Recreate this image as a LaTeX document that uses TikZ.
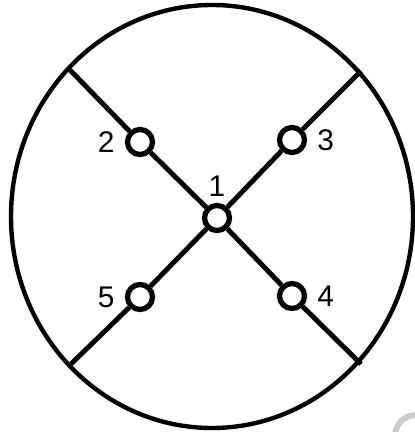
\documentclass[tikz,border=0pt]{standalone}
\usepackage{fontspec}
\setmainfont{Liberation Sans}
\usetikzlibrary{positioning}

\begin{document}
\begin{tikzpicture}[
  x=0.02cm, y=-0.02cm,
  port/.style={draw, circle, fill=white, line width=3pt, minimum size=0.5cm, inner sep=0pt},
  wire/.style={line width=2.8pt},
  rim/.style={line width=2.5pt},
  num/.style={font=\fontsize{17}{20}\selectfont, inner sep=0pt},
  every label/.style={num},
  label distance=0.2cm
]
\useasboundingbox (0,0) rectangle (414,432);
\draw[rim] (212,216.5) ellipse [x radius=201, y radius=211.5];
\draw[gray!40, line width=3.4pt] (416,436) circle [radius=21];
% ends of the cross on the rim
\coordinate (ul) at (70,70);
\coordinate (ur) at (361,71);
\coordinate (ll) at (71,364);
\coordinate (lr) at (361,364);
\node[port, label={[label distance=0.12cm]above:1}] (hub) at (217,218) {};
\node[port, label={left:2}] (p2) at (140,142) {};
\node[port, label={right:3}] (p3) at (292,140) {};
\node[port, label={right:4}] (p4) at (292,296) {};
\node[port, label={left:5}] (p5) at (140,297) {};
\foreach \a/\b in {ul/p2, p2/hub, hub/p4, p4/lr, ur/p3, p3/hub, hub/p5, p5/ll} \draw[wire] (\a) -- (\b);
\end{tikzpicture}
\end{document}
